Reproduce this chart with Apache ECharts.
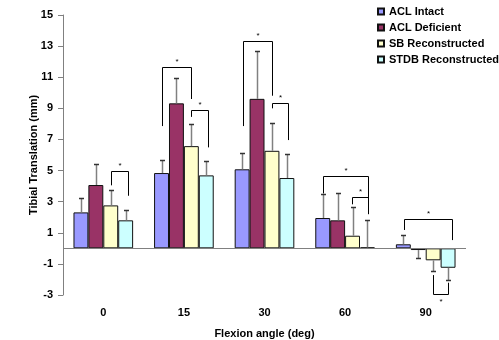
<!DOCTYPE html>
<html><head><meta charset="utf-8">
<script src="https://cdn.jsdelivr.net/npm/echarts@6/dist/echarts.min.js"></script>
<style>html,body{margin:0;padding:0;background:#fff}#c{width:499px;height:340px}</style>
</head><body><div id="c"></div>
<script>
// ---- data ----
const categories = ['0', '15', '30', '60', '90'];
const seriesNames = ['ACL Intact', 'ACL Deficient', 'SB Reconstructed', 'STDB Reconstructed'];
const aclIntact     = [2.31, 4.84, 5.08, 1.95, 0.26];
const aclIntactSD   = [0.94, 0.81, 1.06, 1.56, 0.57];
const aclDeficient  = [4.07, 9.32, 9.61, 1.80, -0.11];
const aclDeficientSD= [1.37, 1.61, 3.09, 1.77, 0.51];
const sbRecon       = [2.76, 6.57, 6.27, 0.81, -0.77];
const sbReconSD     = [0.99, 1.40, 1.80, 1.82, 0.71];
const stdbRecon     = [1.80, 4.69, 4.52, 0.06, -1.25];
const stdbReconSD   = [0.64, 0.94, 1.56, 1.74, 0.79];
const yTicks = [-3, -1, 1, 3, 5, 7, 9, 11, 13, 15];
// significance brackets: [category, leftBarSlot, rightBarSlot, bracketLevel, leftEnd, rightEnd]
const brackets = [
  [0, 2.04, 3.16, 4.97, 4.05, 3.38],
  [1, 0.04, 1.99, 11.63, 7.86, 9.60],
  [1, 1.99, 3.14, 8.89, 8.45, 6.49],
  [2, 0.07, 2.03, 13.34, 7.86, 9.81],
  [2, 2.03, 3.06, 9.32, 9.00, 6.96],
  [3, 0.02, 3.03, 4.63, 3.53, 2.20],
  [3, 1.99, 3.03, 3.32, 2.83, 2.20],
  [4, 0.06, 3.25, 1.86, 1.18, 0.53],
  [4, 2.00, 3.02, -2.92, -1.72, -2.21]
];

// ---- chart ----
const FONT = '"Liberation Sans", Arial, sans-serif';
const GAP = 0.26;
const colors = ['#9999FF', '#993366', '#FFFFCC', '#CCFFFF'];
const means = [aclIntact, aclDeficient, sbRecon, stdbRecon];
const sds = [aclIntactSD, aclDeficientSD, sbReconSD, stdbReconSD];

function slotX(api, cat, slot) {
  const cx = api.coord([cat, 0])[0];
  const band = api.size([1, 0])[0];
  const bw = band * (1 - GAP) / 4;
  return cx + (slot - 1.5) * bw;
}

const errData = [];
means.forEach((arr, i) => arr.forEach((m, j) => errData.push([j, i, m, sds[i][j]])));

const barSeries = seriesNames.map((name, i) => {
  const s = {
    name, type: 'bar', data: means[i],
    barGap: '0%', barCategoryGap: (GAP * 100) + '%',
    itemStyle: { color: colors[i], borderColor: '#111', borderWidth: 1 },
    z: 2
  };
  if (i === 0) {
    s.markLine = {
      silent: true, symbol: ['none', 'none'], label: { show: false },
      lineStyle: { color: '#808080', type: 'solid', width: 1 },
      data: [{ yAxis: 0 }], z: 5
    };
  }
  return s;
});

const chart = echarts.init(document.getElementById('c'), null, { renderer: 'canvas' });
chart.setOption({
  animation: false,
  backgroundColor: '#fff',
  textStyle: { fontFamily: FONT },
  grid: { left: 63, right: 33, top: 15, bottom: 45, containLabel: false, outerBoundsMode: 'none' },
  legend: {
    data: seriesNames, orient: 'vertical', left: 377, top: 5, padding: 0,
    itemWidth: 6, itemHeight: 6, itemGap: 3, icon: 'rect',
    textStyle: { fontFamily: FONT, fontWeight: 'bold', fontSize: 11, color: '#000', lineHeight: 13 }
  },
  xAxis: {
    type: 'category', data: categories,
    axisLine: { show: false, onZero: false },
    axisTick: { show: false },
    axisLabel: { margin: 12, fontFamily: FONT, fontWeight: 'bold', fontSize: 11, color: '#000' },
    name: 'Flexion angle (deg)', nameLocation: 'middle', nameGap: 33, nameMoveOverlap: false,
    nameTextStyle: { fontFamily: FONT, fontWeight: 'bold', fontSize: 11, color: '#000' }
  },
  yAxis: {
    type: 'value', min: -3, max: 15, interval: 1,
    splitLine: { show: false },
    axisLine: { show: true, lineStyle: { color: '#808080' } },
    axisTick: { show: true, customValues: yTicks, length: 5, lineStyle: { color: '#808080' } },
    axisLabel: { customValues: yTicks, margin: 10, fontFamily: FONT, fontWeight: 'bold', fontSize: 11, color: '#000' },
    name: 'Tibial Translation (mm)', nameLocation: 'middle', nameGap: 24, nameMoveOverlap: false,
    nameTextStyle: { fontFamily: FONT, fontWeight: 'bold', fontSize: 11, color: '#000' }
  },
  series: barSeries.concat([
    {
      type: 'custom', name: 'err', silent: true, z: 4,
      encode: { x: 0, y: 2 },
      data: errData,
      renderItem(params, api) {
        const cat = api.value(0), slot = api.value(1), m = api.value(2), sd = api.value(3);
        const x = Math.round(slotX(api, cat, slot)) + 0.5;
        const end = m >= 0 ? m + sd : m - sd;
        const y1 = api.coord([cat, m])[1];
        const y2 = Math.round(api.coord([cat, end])[1]) + 0.5;
        return { type: 'group', children: [
          { type: 'line', shape: { x1: x, y1: y1, x2: x, y2: y2 }, style: { stroke: '#808080', lineWidth: 1.5 } },
          { type: 'line', shape: { x1: x - 2.5, y1: y2, x2: x + 2.5, y2: y2 }, style: { stroke: '#333', lineWidth: 1.5 } }
        ] };
      }
    },
    {
      type: 'custom', name: 'sig', silent: true, z: 6,
      encode: { x: 0, y: 3 },
      data: brackets,
      renderItem(params, api) {
        const cat = api.value(0);
        const xl = Math.round(slotX(api, cat, api.value(1))) + 0.5;
        const xr = Math.round(slotX(api, cat, api.value(2))) + 0.5;
        const top = api.value(3);
        const yt = Math.round(api.coord([cat, top])[1]) + 0.5;
        const yl = api.coord([cat, api.value(4)])[1];
        const yr = api.coord([cat, api.value(5)])[1];
        const up = top > api.value(4);
        const starY = up ? yt - 6 : yt + 7;
        return { type: 'group', children: [
          { type: 'polyline', shape: { points: [[xl, yl], [xl, yt], [xr, yt], [xr, yr]] },
            style: { stroke: '#000', lineWidth: 1, fill: null } },
          { type: 'text', x: (xl + xr) / 2, y: starY,
            style: { text: '*', fontSize: 8, fontFamily: FONT, fill: '#000', align: 'center', verticalAlign: 'middle' } }
        ] };
      }
    }
  ])
});
</script>
</body></html>
